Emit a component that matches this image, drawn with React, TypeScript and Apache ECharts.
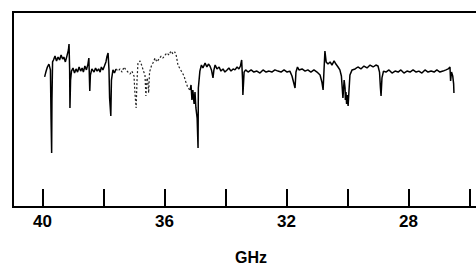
import React, { useEffect, useRef } from "react";
import * as echarts from "echarts";

// Frequency (GHz) of each sampled point of the spectrum trace
const freqGHz: number[] = [
  39.93, 39.89, 39.84, 39.79, 39.74, 39.72, 39.70, 39.69, 39.67, 39.64,
  39.59, 39.54, 39.49, 39.44, 39.39, 39.34, 39.30, 39.25, 39.20, 39.15, 39.13, 39.11, 39.10, 39.08, 39.05,
  39.00, 38.95, 38.90, 38.85, 38.80, 38.75, 38.70, 38.66, 38.61, 38.56, 38.51, 38.48, 38.45, 38.43, 38.38,
  38.31, 38.26, 38.21, 38.16, 38.11, 38.07, 38.02, 37.97, 37.92, 37.89, 37.85, 37.82, 37.80, 37.76, 37.74, 37.69, 37.64, 37.59,
  37.52, 37.46, 37.39, 37.33, 37.26, 37.20, 37.13, 37.07, 37.00, 36.97, 36.93, 36.90, 36.87, 36.80, 36.74, 36.69, 36.64, 36.61, 36.57, 36.54, 36.52, 36.49, 36.43,
  36.38, 36.31, 36.25, 36.18, 36.11, 36.05, 35.98, 35.92, 35.85, 35.79, 35.72, 35.66, 35.61, 35.56, 35.49, 35.43, 35.36, 35.30, 35.23, 35.16,
  35.13, 35.10, 35.07, 35.03, 35.00, 34.97, 34.93, 34.90, 34.89,
  34.84, 34.79, 34.74, 34.67, 34.61, 34.56, 34.51, 34.46, 34.41, 34.38, 34.34, 34.28, 34.21, 34.15, 34.08, 34.02, 33.95, 33.89, 33.82, 33.75, 33.69, 33.62, 33.56, 33.51, 33.47, 33.44, 33.43, 33.39, 33.34,
  33.26, 33.16, 33.07, 32.97, 32.87, 32.77, 32.67, 32.57, 32.48, 32.38, 32.28, 32.18, 32.08, 31.98, 31.89, 31.82, 31.77, 31.72, 31.69, 31.64, 31.59,
  31.49, 31.39, 31.30, 31.20, 31.10, 31.00, 30.90, 30.84, 30.80, 30.77, 30.74, 30.70, 30.64, 30.57, 30.51, 30.44, 30.38, 30.31, 30.25, 30.20, 30.15, 30.11,
  30.08, 30.07, 30.05, 30.03, 30.01, 29.98, 29.95, 29.92, 29.85, 29.75, 29.66, 29.56, 29.46, 29.36, 29.26, 29.16, 29.07, 29.00, 28.95, 28.92, 28.90, 28.87, 28.82,
  28.74, 28.64, 28.54, 28.44, 28.34, 28.25, 28.15, 28.05, 27.95, 27.85, 27.75, 27.66, 27.56, 27.46, 27.36, 27.26, 27.16, 27.07, 26.97, 26.87, 26.77, 26.70, 26.64, 26.62, 26.59, 26.55, 26.52, 26.51,
];

// Detector signal (arbitrary units) at each frequency above
const signal: number[] = [
  66.7, 69.2, 71.8, 73.3, 70.3, 45.6, 27.7, 54.9, 74.4, 75.4,
  77.4, 74.9, 76.9, 75.4, 77.9, 75.9, 76.9, 74.4, 77.4, 80.5, 83.6, 70.3, 50.8, 65.1, 69.7,
  71.3, 68.7, 70.8, 69.2, 71.8, 69.7, 71.3, 69.2, 72.3, 70.3, 73.3, 76.4, 59.5, 67.7, 70.8,
  69.2, 71.3, 69.7, 70.8, 69.2, 71.8, 70.3, 72.3, 74.4, 76.9, 79.0, 70.3, 55.9, 46.7, 65.1, 70.3, 68.7, 70.8,
  69.7, 70.8, 69.2, 71.8, 70.3, 69.2, 68.2, 69.7, 67.2, 58.5, 50.8, 65.1, 73.8, 74.9, 72.3, 69.7, 67.7, 56.9, 66.2, 63.6, 58.5, 69.2, 72.3,
  73.8, 76.4, 74.4, 75.9, 77.4, 76.4, 77.9, 79.0, 77.9, 80.0, 78.5, 79.5, 77.4, 72.8, 70.8, 69.2, 67.2, 64.1, 61.0, 60.0,
  62.6, 54.9, 60.0, 52.8, 59.0, 50.8, 45.6, 30.3, 61.0,
  69.7, 72.8, 71.3, 73.8, 71.8, 73.3, 72.3, 70.3, 66.2, 70.3, 72.8, 70.8, 71.8, 69.7, 70.8, 69.2, 70.3, 71.3, 69.7, 70.8, 70.3, 71.8, 70.8, 72.3, 75.4, 65.1, 57.4, 69.2, 70.3,
  69.2, 70.3, 69.2, 69.7, 68.7, 70.3, 69.2, 69.7, 69.2, 70.3, 69.7, 69.2, 70.3, 69.2, 69.7, 67.2, 64.1, 61.0, 69.2, 71.8, 70.3,
  70.8, 69.7, 70.3, 69.2, 70.3, 69.2, 67.7, 64.1, 60.0, 70.3, 80.0, 74.4, 73.3, 74.4, 72.8, 74.9, 73.3, 71.8, 70.3, 67.2, 55.9, 65.1,
  61.0, 54.9, 59.0, 52.8, 57.4, 51.8, 60.0, 67.7, 70.3, 70.8, 71.8, 70.8, 72.3, 71.3, 72.8, 71.8, 72.8, 72.3, 69.2, 61.0, 56.9, 66.2, 69.7,
  69.2, 70.3, 68.7, 69.7, 69.2, 70.3, 68.7, 69.7, 69.2, 70.3, 69.2, 69.7, 68.7, 70.3, 69.2, 69.7, 69.2, 70.3, 69.2, 69.7, 70.3, 70.8, 71.8, 64.6, 69.2, 67.2, 63.1, 58.5,
];

// Axis tick values (GHz) and which of them carry labels
const tickValues: number[] = [26, 28, 30, 32, 34, 36, 38, 40];
const labelledTicks: number[] = [28, 32, 36, 40];

// Frequency span drawn faint (dotted) in the original record
const faintSpan: [number, number] = [35.16, 37.59];

export default function App() {
  const ref = useRef<HTMLDivElement>(null);
  useEffect(() => {
    if (!ref.current) return;
    const chart = echarts.init(ref.current, undefined, { renderer: "svg" });
    const inFaint = (f: number) => f >= faintSpan[0] && f <= faintSpan[1];
    const solid = freqGHz.map((f, i) => {
      const edge = f === faintSpan[0] || f === faintSpan[1];
      return [f, !inFaint(f) || edge ? signal[i] : "-"];
    });
    const faint = freqGHz.map((f, i) => [f, inFaint(f) ? signal[i] : "-"]);
    const font = "'Liberation Sans', Arial, Helvetica, sans-serif";
    chart.setOption({
      animation: false,
      backgroundColor: "#fff",
      grid: { left: 42.5, right: 6.5, top: 12, bottom: 57 },
      xAxis: {
        type: "value",
        inverse: true,
        min: tickValues[0],
        max: tickValues[tickValues.length - 1],
        interval: 2,
        axisLine: { show: false },
        splitLine: { show: false },
        axisTick: { show: true, inside: true, length: 18, lineStyle: { color: "#000", width: 2 } },
        axisLabel: {
          margin: 6,
          color: "#000",
          fontSize: 17,
          fontWeight: "bold",
          fontFamily: font,
          formatter: (v: number) => (labelledTicks.includes(v) ? String(v) : ""),
        },
      },
      yAxis: { type: "value", min: 0, max: 100, show: false },
      series: [
        {
          type: "line",
          data: solid,
          showSymbol: false,
          connectNulls: false,
          lineStyle: { color: "#000", width: 1.5 },
        },
        {
          type: "line",
          data: faint,
          showSymbol: false,
          connectNulls: false,
          lineStyle: { color: "#222", width: 1.2, type: [2, 2] },
        },
      ],
      graphic: [
        { type: "line", shape: { x1: 13, y1: 12, x2: 476, y2: 12 }, style: { stroke: "#000", lineWidth: 2 } },
        { type: "line", shape: { x1: 13, y1: 11, x2: 13, y2: 208 }, style: { stroke: "#000", lineWidth: 2 } },
        { type: "line", shape: { x1: 12, y1: 207, x2: 476, y2: 207 }, style: { stroke: "#000", lineWidth: 2 } },
        {
          type: "text",
          x: 251,
          y: 257,
          style: {
            text: "GHz",
            fill: "#000",
            font: `bold 16px ${font}`,
            textAlign: "center",
            textVerticalAlign: "middle",
          },
        },
      ],
    });
    return () => chart.dispose();
  }, []);
  return (
    <div
      ref={ref}
      style={{ position: "fixed", left: 0, top: 0, width: 476, height: 264, background: "#fff" }}
    />
  );
}
